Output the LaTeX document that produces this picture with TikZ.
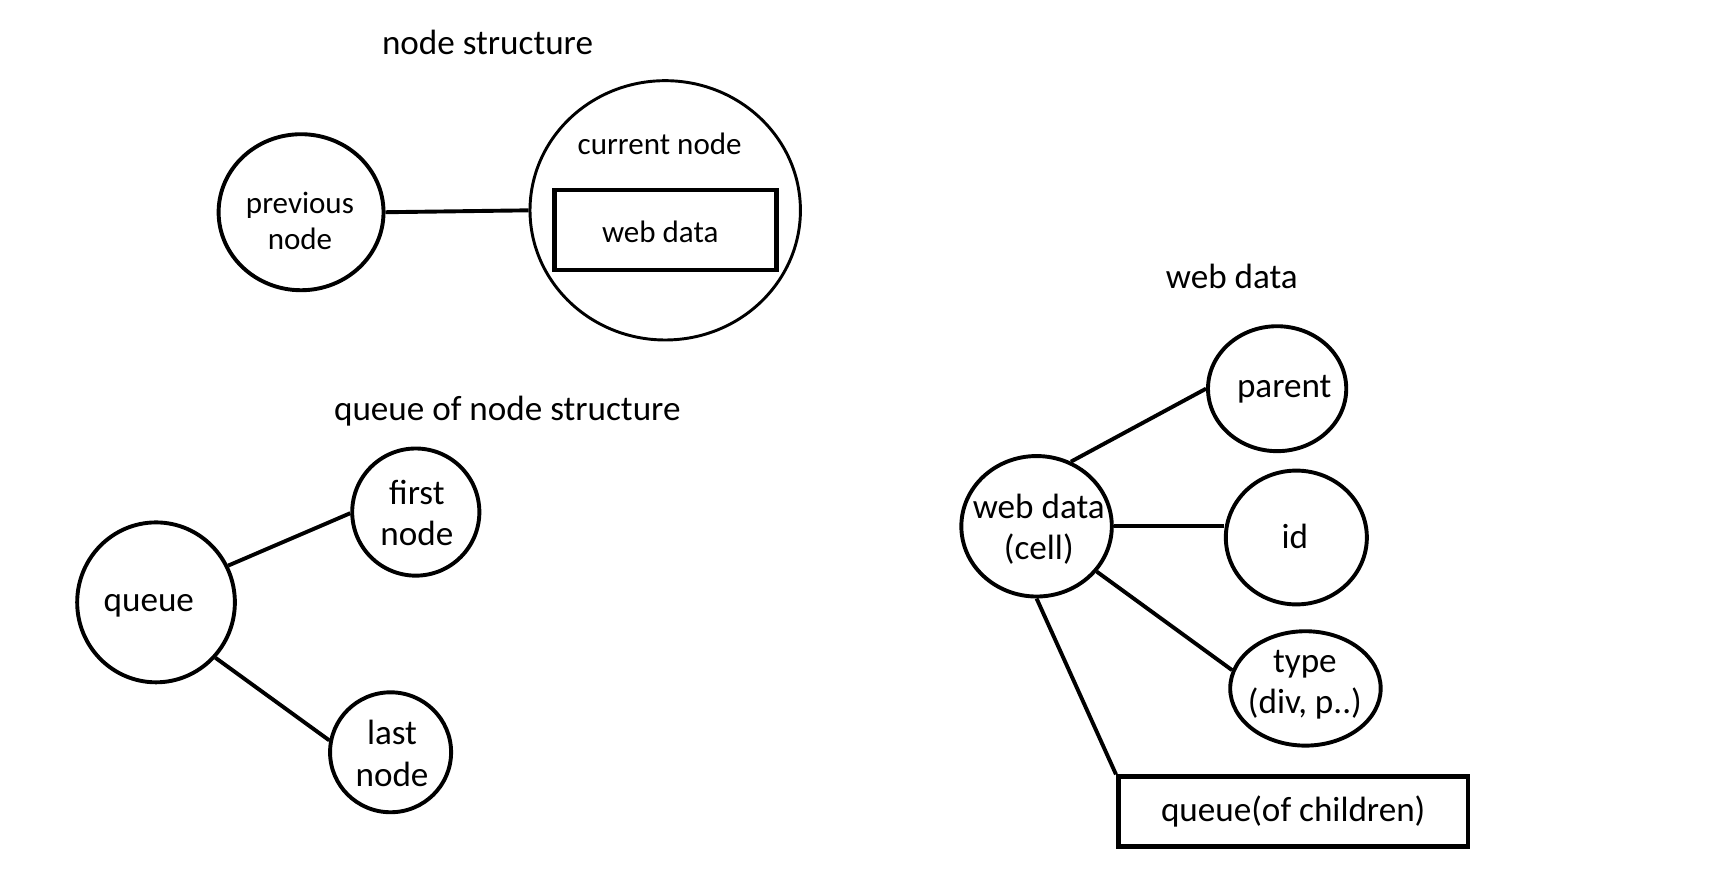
\documentclass[tikz,border=0pt]{standalone}
\usepackage{fontspec}
\setmainfont{Carlito}
\usetikzlibrary{shapes.geometric}
\tikzset{
	blob/.style={draw, ellipse, line width=1pt, inner sep=0pt},
	databox/.style={draw, rectangle, line width=1.2pt, inner sep=0pt},
	link/.style={line width=1pt},
	big/.style={align=center, font=\fontsize{9pt}{10.6pt}\selectfont},
	small/.style={align=center, font=\fontsize{7.95pt}{9.1pt}\selectfont}
}

\begin{document}
\begin{tikzpicture}
			%%%%% START %%%%%
			
			\useasboundingbox (0, 0) rectangle (15.56, 8.014);
			
			\node[big] (title1) at (4.39, 7.633) {node structure};
			\node[blob, minimum width=1.485cm, minimum height=1.405cm] (prev) at (2.711, 6.103) {};
			\node[small] (prevtxt) at (2.701, 6.024) {previous\\node};
			\node[blob, line width=0.75pt, minimum width=2.435cm, minimum height=2.335cm] (cur) at (5.99, 6.12) {};
			\node[small] (curtxt) at (5.94, 6.72) {current node};
			\node[databox, minimum width=2.0cm, minimum height=0.72cm] (webbox) at (5.99, 5.944) {};
			\node[small] (webtxt) at (5.945, 5.93) {web data};
			\draw[link] (prev.east) -- (cur.west);
			
			\node[big] (title2) at (4.568, 4.316) {queue of node structure};
			\node[blob, minimum width=1.42cm, minimum height=1.44cm] (queue) at (1.405, 2.59) {};
			\node[big] (queuetxt) at (1.34, 2.56) {queue};
			\node[blob, minimum width=1.145cm, minimum height=1.145cm] (first) at (3.744, 3.403) {};
			\node[big] (firsttxt) at (3.754, 3.393) {first\\node};
			\node[blob, minimum width=1.09cm, minimum height=1.08cm] (last) at (3.517, 1.24) {};
			\node[big] (lasttxt) at (3.53, 1.23) {last\\node};
			\draw[link] (queue.27.5) -- (first.181);
			\draw[link] (queue.-43.5) -- (last.169);
			
			\node[big] (title3) at (11.092, 5.528) {web data};
			\node[blob, minimum width=1.355cm, minimum height=1.265cm] (cell) at (9.334, 3.275) {};
			\node[big] (celltxt) at (9.354, 3.25) {web data\\(cell)};
			\node[blob, minimum width=1.245cm, minimum height=1.125cm] (parent) at (11.50, 4.514) {};
			\node[big] (parenttxt) at (11.564, 4.505) {parent};
			\node[blob, minimum width=1.27cm, minimum height=1.205cm] (id) at (11.673, 3.174) {};
			\node[big] (idtxt) at (11.66, 3.18) {id};
			\node[blob, minimum width=1.355cm, minimum height=1.03cm] (type) at (11.755, 1.815) {};
			\node[big] (typetxt) at (11.75, 1.85) {type\\(div, p..)};
			\node[databox, big, minimum width=3.15cm, minimum height=0.63cm] (kids) at (11.645, 0.705) {queue(of children)};
			
			\draw[link] (cell.62) -- (parent.180);
			\draw[link] (cell.east) -- (cell.east -| id.west);
			\draw[link] (cell.-37) -- (type.166);
			\draw[link] (cell.south) -- (kids.north west);
			
			%%%%% END %%%%%
\end{tikzpicture}
\end{document}
